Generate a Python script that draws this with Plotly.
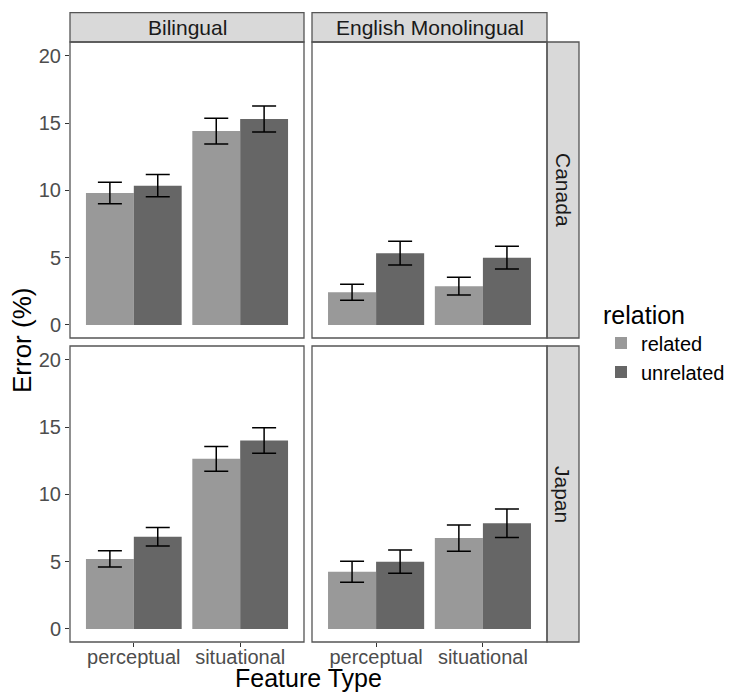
import plotly.graph_objects as go

W, H = 730, 694

features = ["perceptual", "situational"]
relations = ["related", "unrelated"]
languages = ["Bilingual", "English Monolingual"]
countries = ["Canada", "Japan"]

# values (%), per feature [perceptual, situational]
canada_bilingual_related = [9.8, 14.4]
canada_bilingual_related_se = [0.8, 0.95]
canada_bilingual_unrelated = [10.35, 15.3]
canada_bilingual_unrelated_se = [0.83, 0.97]
canada_mono_related = [2.43, 2.88]
canada_mono_related_se = [0.6, 0.66]
canada_mono_unrelated = [5.33, 5.0]
canada_mono_unrelated_se = [0.88, 0.85]
japan_bilingual_related = [5.2, 12.64]
japan_bilingual_related_se = [0.6, 0.92]
japan_bilingual_unrelated = [6.85, 14.0]
japan_bilingual_unrelated_se = [0.68, 0.94]
japan_mono_related = [4.25, 6.75]
japan_mono_related_se = [0.78, 0.98]
japan_mono_unrelated = [5.0, 7.85]
japan_mono_unrelated_se = [0.86, 1.06]

y_ticks = [0, 5, 10, 15, 20]

panels = [
    # (axis suffix, related, related_se, unrelated, unrelated_se)
    ("", canada_bilingual_related, canada_bilingual_related_se, canada_bilingual_unrelated, canada_bilingual_unrelated_se),
    ("2", canada_mono_related, canada_mono_related_se, canada_mono_unrelated, canada_mono_unrelated_se),
    ("3", japan_bilingual_related, japan_bilingual_related_se, japan_bilingual_unrelated, japan_bilingual_unrelated_se),
    ("4", japan_mono_related, japan_mono_related_se, japan_mono_unrelated, japan_mono_unrelated_se),
]

colors = {"related": "#999999", "unrelated": "#666666"}
FONT = "Liberation Sans, Arial, sans-serif"

fig = go.Figure()
for i, (sfx, rel, rel_se, unr, unr_se) in enumerate(panels):
    for name, vals, se in (("related", rel, rel_se), ("unrelated", unr, unr_se)):
        fig.add_trace(go.Bar(
            x=features, y=vals, name=name, legendgroup=name,
            showlegend=(i == 0),
            marker=dict(color=colors[name], line=dict(width=0)),
            offsetgroup=name,
            error_y=dict(type="data", array=se, color="black", thickness=1.5, width=12),
            xaxis="x" + sfx, yaxis="y" + sfx,
        ))

def px_x(p):
    return p / W

def px_y(p):
    return 1 - p / H

col_x = [(70, 304), (312, 547)]
row_y = [(42, 338), (346, 642)]
strip_top = (12.7, 42)
strip_right = (547, 579)

layout = dict(
    width=W, height=H, margin=dict(l=0, r=0, t=0, b=0),
    paper_bgcolor="white", plot_bgcolor="white",
    barmode="group", bargap=0.1, bargroupgap=0,
    font=dict(family=FONT, color="#4D4D4D"),
    legend=dict(
        title=dict(text="relation", font=dict(size=25, color="black")),
        font=dict(size=20, color="black"),
        x=601 / W, y=px_y(291), xanchor="left", yanchor="top",
        tracegroupgap=0, itemwidth=30, bgcolor="rgba(0,0,0,0)",
    ),
)

axis_ids = ["", "2", "3", "4"]
for k, sfx in enumerate(axis_ids):
    r, c = divmod(k, 2)
    x0, x1 = col_x[c]
    y0, y1 = row_y[r]
    layout["xaxis" + sfx] = dict(
        domain=[px_x(x0), px_x(x1)], anchor="y" + sfx,
        type="category", categoryarray=features, range=[-0.6, 1.6],
        showgrid=False, zeroline=False, showline=False,
        ticks="outside" if r == 1 else "", ticklen=4, tickcolor="#333333",
        showticklabels=(r == 1), ticklabelstandoff=-7,
        tickfont=dict(size=20, color="#4D4D4D"),
    )
    layout["yaxis" + sfx] = dict(
        domain=[px_y(y1), px_y(y0)], anchor="x" + sfx,
        range=[-0.97, 21.02], tickvals=y_ticks,
        showgrid=False, zeroline=False, showline=False,
        ticks="outside" if c == 0 else "", ticklen=4, tickcolor="#333333",
        showticklabels=(c == 0),
        tickfont=dict(size=20, color="#4D4D4D"),
    )

fig.update_layout(**layout)

shapes = []
annotations = []
border = "#555555"
# panel borders
for (x0, x1) in col_x:
    for (y0, y1) in row_y:
        shapes.append(dict(type="rect", xref="paper", yref="paper",
                           x0=px_x(x0), x1=px_x(x1), y0=px_y(y1), y1=px_y(y0),
                           line=dict(color=border, width=1.3), fillcolor="rgba(0,0,0,0)", layer="above"))
# top strips
for (x0, x1), lab in zip(col_x, languages):
    shapes.append(dict(type="rect", xref="paper", yref="paper",
                       x0=px_x(x0), x1=px_x(x1), y0=px_y(strip_top[1]), y1=px_y(strip_top[0]),
                       line=dict(color=border, width=1.3), fillcolor="#D9D9D9", layer="below"))
    annotations.append(dict(text=lab, xref="paper", yref="paper",
                            x=px_x((x0 + x1) / 2), y=px_y((strip_top[0] + strip_top[1]) / 2),
                            showarrow=False, font=dict(size=21, color="#1A1A1A"),
                            xanchor="center", yanchor="middle"))
# right strips
for (y0, y1), lab in zip(row_y, countries):
    shapes.append(dict(type="rect", xref="paper", yref="paper",
                       x0=px_x(strip_right[0]), x1=px_x(strip_right[1]), y0=px_y(y1), y1=px_y(y0),
                       line=dict(color=border, width=1.3), fillcolor="#D9D9D9", layer="below"))
    annotations.append(dict(text=lab, xref="paper", yref="paper",
                            x=px_x((strip_right[0] + strip_right[1]) / 2), y=px_y((y0 + y1) / 2),
                            showarrow=False, textangle=90, font=dict(size=21, color="#1A1A1A"),
                            xanchor="center", yanchor="middle"))
# axis titles
annotations.append(dict(text="Error (%)", xref="paper", yref="paper",
                        x=px_x(22), y=px_y(341), showarrow=False, textangle=-90,
                        font=dict(size=26, color="black"), xanchor="center", yanchor="middle"))
annotations.append(dict(text="Feature Type", xref="paper", yref="paper",
                        x=px_x(308.5), y=px_y(678), showarrow=False,
                        font=dict(size=25, color="black"), xanchor="center", yanchor="middle"))

fig.update_layout(shapes=shapes, annotations=annotations)
fig.write_html("out.html")
